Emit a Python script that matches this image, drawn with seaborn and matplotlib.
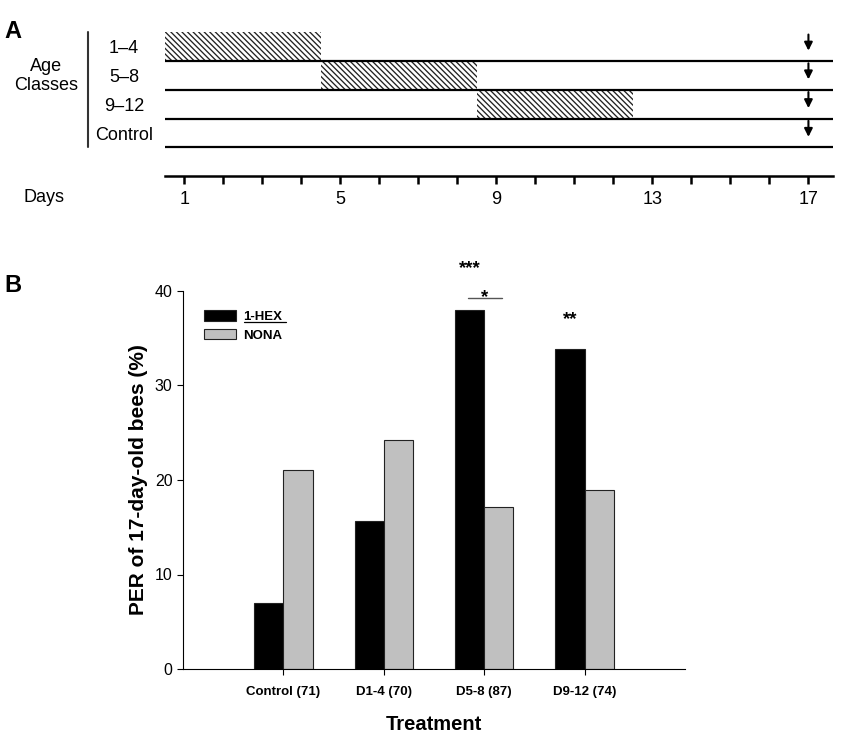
import numpy as np
import pandas as pd
import matplotlib
matplotlib.use('Agg')
import matplotlib.pyplot as plt
import matplotlib.transforms as mtransforms
from matplotlib.lines import Line2D
from matplotlib.patches import Patch
import seaborn as sns

# --- data ---
age_classes = ['1–4', '5–8', '9–12', 'Control']
first_day = [1, 5, 9]          # exposure period per age class (Control has none)
last_day = [4, 8, 12]
test_day = 17
day_ticks = list(range(1, 18))
day_labels = [1, 5, 9, 13, 17]

treatments = ['Control (71)', 'D1-4 (70)', 'D5-8 (87)', 'D9-12 (74)']
hex_per = [7.0, 15.7, 38.0, 33.9]
nona_per = [21.1, 24.2, 17.1, 18.9]
hex_stars = ['', '', '***', '**']
pair_stars = ['', '', '*', '']

df = pd.DataFrame({
    'Treatment': treatments * 2,
    'PER': hex_per + nona_per,
    'Odor': ['1-HEX'] * 4 + ['NONA'] * 4,
})

# --- style ---
sns.set_style('ticks')
plt.rcParams['font.family'] = ['Liberation Sans', 'DejaVu Sans']
plt.rcParams['hatch.linewidth'] = 0.95
for k in ['text.color', 'axes.labelcolor', 'xtick.color', 'ytick.color', 'axes.edgecolor']:
    plt.rcParams[k] = 'black'

W, H = 850, 744
fig = plt.figure(figsize=(W / 100, H / 100), dpi=100)

def fx(px):
    return px / W

def fy(py):
    return 1 - py / H

# ===== Panel A =====
ax1 = fig.add_axes([fx(165), fy(176), fx(833) - fx(165), 5.3 * 28.75 / H])
ax1.set_xlim(0.5, 17.63)
ax1.set_ylim(0, 5.3)
n = len(age_classes)
levels = [n - i for i in range(n)]   # 1-4 on top, Control at bottom

for lv in levels:
    ax1.axhline(lv, color='black', lw=1.6, zorder=3)

starts = [d - 0.5 for d in first_day]
widths = [l - f + 1 for f, l in zip(first_day, last_day)]
ax1.barh(levels[:3], widths, left=starts, height=1, align='edge',
         color='white', edgecolor='#222222', hatch='\\\\\\\\\\\\', lw=0, zorder=2)

for lv in levels:
    ax1.annotate('', xy=(test_day, lv + 0.36), xytext=(test_day, lv + 0.92),
                 arrowprops=dict(arrowstyle='-|>', color='black', lw=1.5,
                                 mutation_scale=12, shrinkA=0, shrinkB=0))

for s in ['top', 'right', 'left']:
    ax1.spines[s].set_visible(False)
ax1.spines['bottom'].set_linewidth(1.8)
ax1.set_yticks([])
ax1.set_xticks(day_ticks)
ax1.set_xticklabels([str(d) if d in day_labels else '' for d in day_ticks], fontsize=13)
ax1.tick_params(axis='x', length=6, width=1.8, pad=5)

blend = mtransforms.blended_transform_factory(fig.transFigure, ax1.transData)
for name, lv in zip(age_classes, levels):
    ax1.text(fx(124), lv + 0.42, name, transform=blend, ha='center', va='center', fontsize=13)
ax1.add_artist(Line2D([fx(88), fx(88)], [1, 5], transform=blend, color='#333333',
                      lw=1.5, clip_on=False))
fig.text(fx(46), fy(76), 'Age\nClasses', ha='center', va='center', fontsize=13)
fig.text(fx(44), fy(198), 'Days', ha='center', va='center', fontsize=13)
fig.text(fx(13), fy(31), 'A', ha='center', va='center', fontsize=17, fontweight='bold')

# ===== Panel B =====
ax2 = fig.add_axes([fx(183), fy(669), fx(685) - fx(183), 378 / H])
bar_w = 0.58
sns.barplot(data=df, x='Treatment', y='PER', hue='Odor', palette=['black', '#c0c0c0'],
            width=bar_w, edgecolor='#222222', linewidth=0.8, legend=False, ax=ax2)
ax2.set_xlim(-1, 4)
ax2.set_ylim(0, 40)
ax2.set_yticks([0, 10, 20, 30, 40])
sns.despine(ax=ax2)
for s in ['left', 'bottom']:
    ax2.spines[s].set_linewidth(0.8)
ax2.tick_params(axis='y', length=4, width=0.8, pad=3.5, labelsize=11.5)
ax2.tick_params(axis='x', length=4, width=0.8, pad=8)
for t in ax2.get_xticklabels():
    t.set_fontsize(9.5)
    t.set_fontweight('bold')

ax2.set_xlabel('Treatment', fontsize=14.5, fontweight='bold')
ax2.xaxis.set_label_coords(0.5, -0.122)
ax2.set_ylabel('PER of 17-day-old bees (%)', fontsize=15, fontweight='bold')
ax2.yaxis.set_label_coords(-0.069, 0.5)

# significance marks
off = bar_w / 4
for i, (hs, ps) in enumerate(zip(hex_stars, pair_stars)):
    top = hex_per[i]
    if ps:
        yb = max(hex_per[i], nona_per[i]) + 1.3
        ax2.plot([i - off - 0.02, i + off + 0.03], [yb, yb], color='#555555', lw=1, clip_on=False)
        ax2.text(i, yb + 0.7 - 0.65, ps, ha='center', va='center', fontsize=13.5,
                 fontweight='bold', clip_on=False)
        top = yb
    if hs:
        ax2.text(i - off, top + 3.7 - 0.65, hs, ha='center', va='center', fontsize=13.5,
                 fontweight='bold', clip_on=False)

handles = [Patch(facecolor='black', edgecolor='#222222', lw=0.8),
           Patch(facecolor='#c0c0c0', edgecolor='#222222', lw=0.8)]
leg = ax2.legend(handles, ['1-HEX', 'NONA'], loc='upper left',
                 bbox_to_anchor=((204 - 183) / 502, (669 - 310) / 378),
                 frameon=False, borderpad=0, borderaxespad=0, handlelength=2.4,
                 handleheight=0.85, labelspacing=0.45, handletextpad=0.6,
                 prop={'size': 9.5, 'weight': 'bold'})

fig.text(fx(13), fy(286), 'B', ha='center', va='center', fontsize=17, fontweight='bold')

# underline the 1-HEX legend label
fig.canvas.draw()
bb = leg.get_texts()[0].get_window_extent()
inv = fig.transFigure.inverted()
(x0, y0), (x1, _) = inv.transform([(bb.x0, bb.y0 + 0.5), (bb.x1 + 3, bb.y0)])
fig.add_artist(Line2D([x0, x1], [y0, y0], transform=fig.transFigure, color='black', lw=0.9))

fig.savefig('out.png', dpi=100, facecolor='white')
